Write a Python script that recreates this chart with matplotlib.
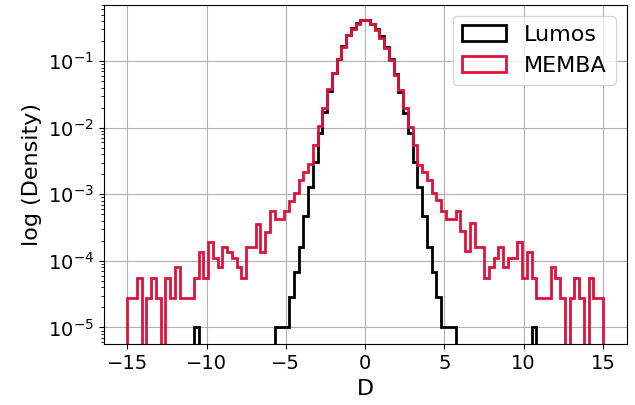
import numpy as np
import matplotlib
matplotlib.use("Agg")
from matplotlib import pyplot as plt

# bin edges of the histogram (100 bins between -15 and 15)
bin_lo = -15.0
bin_hi = 15.0
n_bins = 100

# density per bin, Lumos (black)
lumos_density = [
    0, 0, 0, 0, 0, 0, 0, 0, 0, 0,
    0, 0, 0, 0, 1.0e-5, 0, 0, 0, 0, 0,
    0, 0, 0, 0, 0, 0, 0, 0, 0, 0,
    0, 1.0e-5, 1.0e-5, 1.0e-5, 2.9e-5, 6.9e-5, 1.64e-4, 4.7e-4, 1.3e-3, 3.1e-3,
    8.2e-3, 1.74e-2, 3.5e-2, 6.6e-2, 0.108, 0.166, 0.247, 0.312, 0.37, 0.412,
    0.412, 0.362, 0.302, 0.237, 0.164, 0.106, 0.065, 3.47e-2, 1.68e-2, 8.2e-3,
    3.1e-3, 1.3e-3, 4.7e-4, 1.64e-4, 6.9e-5, 2.9e-5, 1.0e-5, 1.0e-5, 1.0e-5, 0,
    0, 0, 0, 0, 0, 0, 0, 0, 0, 0,
    0, 0, 0, 0, 0, 1.0e-5, 0, 0, 0, 0,
    0, 0, 0, 0, 0, 0, 0, 0, 0, 0,
]

# density per bin, MEMBA (red)
memba_density = [
    2.75e-5, 2.75e-5, 5.5e-5, 0, 2.75e-5, 5.5e-5, 2.75e-5, 0, 5.5e-5, 2.75e-5,
    8.2e-5, 2.75e-5, 2.75e-5, 2.75e-5, 5.5e-5, 1.37e-4, 5.5e-5, 1.9e-4, 1.1e-4, 8.2e-5,
    1.64e-4, 1.37e-4, 1.1e-4, 8.2e-5, 5.5e-5, 1.64e-4, 1.64e-4, 3.6e-4, 1.37e-4, 2.75e-4,
    5.7e-4, 4.2e-4, 4.2e-4, 5.7e-4, 7.9e-4, 1.04e-3, 1.64e-3, 2.2e-3, 2.9e-3, 5.5e-3,
    1.06e-2, 1.95e-2, 3.76e-2, 6.7e-2, 0.106, 0.164, 0.245, 0.309, 0.367, 0.41,
    0.41, 0.359, 0.292, 0.219, 0.155, 0.103, 0.062, 0.037, 1.95e-2, 1.04e-2,
    5.5e-3, 2.8e-3, 2.2e-3, 1.66e-3, 1.03e-3, 8.2e-4, 5.6e-4, 4.2e-4, 4.2e-4, 5.6e-4,
    2.8e-4, 1.43e-4, 3.67e-4, 1.64e-4, 1.64e-4, 5.5e-5, 8.2e-5, 1.1e-4, 1.64e-4, 8.2e-5,
    1.1e-4, 1.1e-4, 1.9e-4, 5.5e-5, 1.37e-4, 5.5e-5, 2.75e-5, 2.75e-5, 2.75e-5, 8.2e-5,
    5.5e-5, 2.75e-5, 0, 2.75e-5, 5.5e-5, 2.75e-5, 0, 5.5e-5, 2.75e-5, 2.75e-5,
]

edges = np.linspace(bin_lo, bin_hi, n_bins + 1)
centers = 0.5 * (edges[:-1] + edges[1:])

fig = plt.figure(figsize=(6.35, 4.05), dpi=100)
ax = fig.add_axes([0.163, 0.15, 0.824, 0.838])

ax.hist(centers, bins=edges, weights=lumos_density, histtype='step',
        color='black', linewidth=2, label='Lumos')
ax.hist(centers, bins=edges, weights=memba_density, histtype='step',
        color='crimson', linewidth=2, label='MEMBA')

ax.set_yscale('log')
ax.set_xlim(-16.5, 16.5)
ax.set_ylim(5.6e-6, 0.7)
ax.set_xticks([-15, -10, -5, 0, 5, 10, 15])
ax.grid(True)
ax.tick_params(axis='both', which='major', labelsize=14)

ax.set_xlabel('D', fontsize=16)
ax.set_ylabel('log (Density)', fontsize=16)
ax.legend(loc='upper right', fontsize=16)

plt.savefig('out.png', dpi=100)
plt.close()
